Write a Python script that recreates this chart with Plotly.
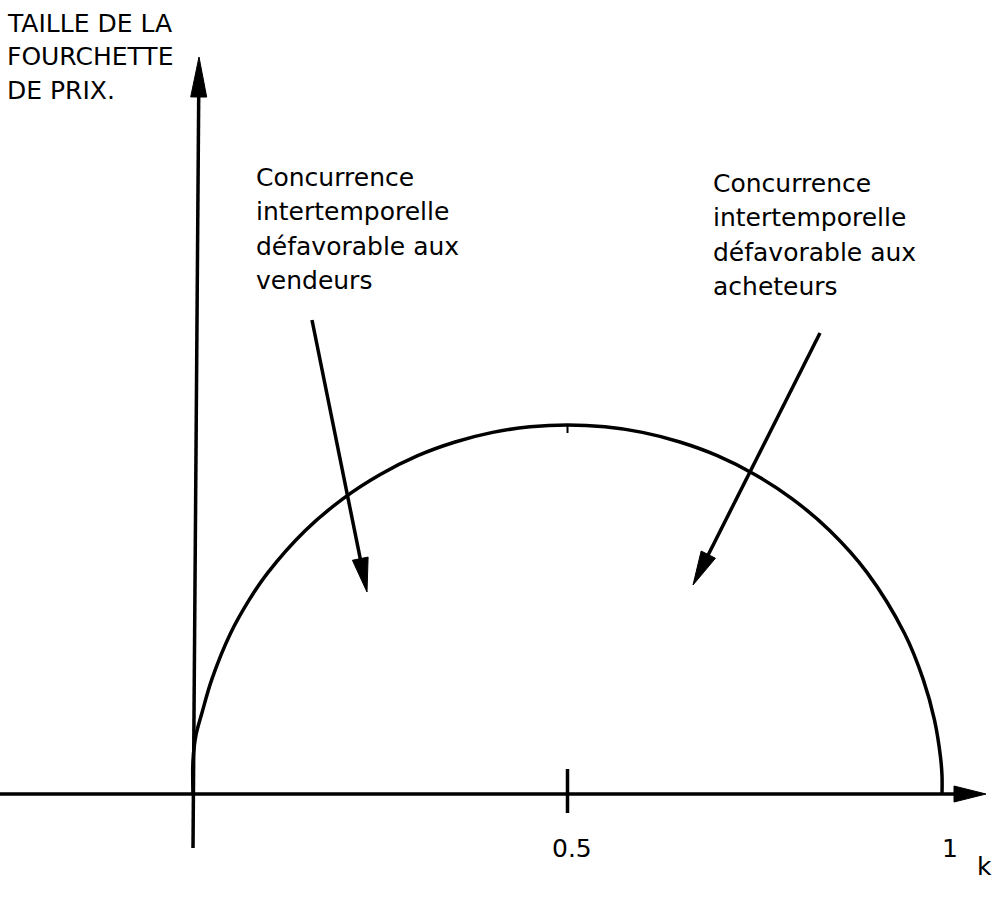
import math
import plotly.graph_objects as go

# ---- data (x: k, y: relative spread size, peak = 1) ----
curve_k = [0.0, 0.0, 0.004, 0.012, 0.025, 0.05, 0.075, 0.1, 0.15, 0.2, 0.25, 0.3,
           0.35, 0.4, 0.45, 0.5, 0.55, 0.6, 0.65, 0.7, 0.75, 0.8, 0.85, 0.9,
           0.95, 0.975, 0.99, 0.998, 1.0, 1.0]
curve_size = [0.0, 0.09, 0.16, 0.22, 0.31, 0.435, 0.526, 0.60, 0.714, 0.80, 0.866, 0.917,
              0.954, 0.98, 0.995, 1.0, 0.995, 0.98, 0.954, 0.917, 0.866, 0.80, 0.714, 0.60,
              0.435, 0.31, 0.20, 0.10, 0.05, 0.0]

tick_vals = [0.5, 1.0]
tick_text = ["0.5", "1"]
x_label = "k"
y_label_lines = ["TAILLE DE LA", "FOURCHETTE", "DE PRIX."]
left_note = ["Concurrence", "intertemporelle", "défavorable aux", "vendeurs"]
right_note = ["Concurrence", "intertemporelle", "défavorable aux", "acheteurs"]

# ---- layout geometry (pixel frame of the 998x908 canvas) ----
W, H = 998, 908
X0, XS = 193.0, 749.0   # pixel of k=0, pixels per unit k
Y0, YS = 794.0, 369.0   # pixel of size=0, pixels per unit size


def X(px):
    return (px - X0) / XS


def Y(py):
    return (Y0 - py) / YS


FONT = "DejaVu Sans"
FS = 25
LW = 3.5

fig = go.Figure()
fig.add_trace(go.Scatter(x=curve_k, y=curve_size, mode="lines",
                         line=dict(color="black", width=LW, shape="spline", smoothing=1.0),
                         hoverinfo="skip", showlegend=False))

shapes = []
annotations = []


def arrow(tail, tip, length, hw):
    (x0, y0), (x1, y1) = tail, tip
    dx, dy = x1 - x0, y1 - y0
    d = math.hypot(dx, dy)
    ux, uy = dx / d, dy / d
    bx, by = x1 - ux * length, y1 - uy * length
    shapes.append(dict(type="line", xref="x", yref="y",
                       x0=X(x0), y0=Y(y0), x1=X(bx + ux * 4), y1=Y(by + uy * 4),
                       line=dict(color="black", width=LW)))
    px, py = -uy, ux
    pts = [(x1, y1), (bx + px * hw, by + py * hw), (bx - px * hw, by - py * hw)]
    path = "M {} {} L {} {} L {} {} Z".format(*[v for p in pts for v in (X(p[0]), Y(p[1]))])
    shapes.append(dict(type="path", xref="x", yref="y", path=path,
                       fillcolor="black", line=dict(color="black", width=1)))


# axes
arrow((0, Y0), (986, Y0), 32, 8)
arrow((193, 848), (199, 57), 40, 8)
# note arrows
arrow((312, 320), (367, 592), 34, 8)
arrow((820, 333), (693, 585), 34, 8)

# tick at 0.5 on the axis and small mark under the peak
shapes.append(dict(type="line", xref="x", yref="y", x0=tick_vals[0], x1=tick_vals[0],
                   y0=Y(769), y1=Y(813), line=dict(color="black", width=LW)))
shapes.append(dict(type="line", xref="x", yref="y", x0=tick_vals[0], x1=tick_vals[0],
                   y0=1.0, y1=Y(433), line=dict(color="black", width=2)))

# tick labels (printed slightly right of their tick)
label_shift = [X(X0 + 4), X(X0 + 8)]
for v, t, s in zip(tick_vals, tick_text, label_shift):
    annotations.append(dict(x=v + s, y=Y(848), xref="x", yref="y", text=t,
                            showarrow=False, xanchor="center", yanchor="middle",
                            font=dict(family=FONT, size=FS, color="black")))
annotations.append(dict(x=X(984), y=Y(866), xref="x", yref="y", text=x_label,
                        showarrow=False, xanchor="center", yanchor="middle",
                        font=dict(family=FONT, size=FS, color="black")))


def block(lines, left_px, first_center_py, spacing):
    for i, s in enumerate(lines):
        annotations.append(dict(x=X(left_px), y=Y(first_center_py + i * spacing),
                                xref="x", yref="y", text=s, showarrow=False,
                                xanchor="left", yanchor="middle",
                                font=dict(family=FONT, size=FS, color="black")))


block(y_label_lines, 5, 23, 33.5)
block(left_note, 254, 177, 34.5)
block(right_note, 711, 183, 34.5)

fig.update_layout(
    width=W, height=H, margin=dict(l=0, r=0, t=0, b=0),
    paper_bgcolor="white", plot_bgcolor="white",
    xaxis=dict(visible=False, range=[X(0), X(W)], fixedrange=True),
    yaxis=dict(visible=False, range=[Y(H), Y(0)], fixedrange=True),
    shapes=shapes, annotations=annotations, showlegend=False,
)

fig.write_html("out.html", config={"staticPlot": True},
               post_script="document.body.style.margin='0';document.body.style.overflow='hidden';")
